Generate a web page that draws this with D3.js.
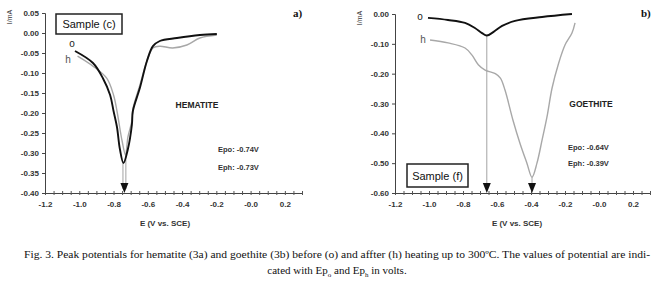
<!DOCTYPE html>
<html>
<head>
<meta charset="utf-8">
<script src="https://cdn.jsdelivr.net/npm/d3@7"></script>
<style>
  body { margin: 0; background: #fff; }
  svg text { font-family: "Liberation Sans", Arial, sans-serif; }
  .cap { font-family: "Liberation Serif", "Times New Roman", serif !important; }
</style>
</head>
<body>
<svg id="chart" width="661" height="285"></svg>
<script>
// --- data ---
const xTickValues = [-1.2, -1.0, -0.8, -0.6, -0.4, -0.2, 0.0, 0.2];
const xTickLabels = ["-1.2", "-1.0", "-0.8", "-0.6", "-0.4", "-0.2", "-0.0", "0.2"];
const hemYTicks = [0.05, 0.00, -0.05, -0.10, -0.15, -0.20, -0.25, -0.30, -0.35, -0.40];
const hemYLabels = ["0.05", "0.00", "-0.05", "-0.10", "-0.15", "-0.20", "-0.25", "-0.30", "-0.35", "-0.40"];
const goeYTicks = [0.00, -0.10, -0.20, -0.30, -0.40, -0.50, -0.60];
const goeYLabels = ["0.00", "-0.10", "-0.20", "-0.30", "-0.40", "-0.50", "-0.60"];

// hematite, before heating (o)
const hemOE = [-1.025, -0.92, -0.862, -0.82, -0.80, -0.78, -0.763, -0.742, -0.716, -0.693, -0.687, -0.646, -0.605, -0.57, -0.53, -0.43, -0.296, -0.197];
const hemOI = [-0.045, -0.075, -0.113, -0.155, -0.195, -0.235, -0.29, -0.325, -0.29, -0.23, -0.195, -0.137, -0.07, -0.033, -0.02, -0.0125, -0.005, -0.0025];
// hematite, after heating (h)
const hemHE = [-1.01, -0.92, -0.84, -0.80, -0.78, -0.75, -0.73, -0.716, -0.693, -0.687, -0.646, -0.605, -0.57, -0.53, -0.455, -0.372, -0.296, -0.197];
const hemHI = [-0.058, -0.083, -0.113, -0.155, -0.195, -0.27, -0.305, -0.26, -0.22, -0.19, -0.13, -0.07, -0.0375, -0.033, -0.0375, -0.03, -0.0125, -0.005];
const hemPeakE = [-0.745, -0.728];
const hemPeakI = [-0.325, -0.305];

// goethite, before heating (o)
const goeOE = [-1.006, -0.888, -0.788, -0.73, -0.688, -0.66, -0.62, -0.57, -0.494, -0.335, -0.159];
const goeOI = [-0.013, -0.02, -0.03, -0.047, -0.064, -0.072, -0.06, -0.04, -0.023, -0.01, 0.0];
// goethite, after heating (h)
const goeHE = [-0.994, -0.888, -0.788, -0.747, -0.71, -0.67, -0.61, -0.58, -0.553, -0.506, -0.465, -0.424, -0.394, -0.365, -0.335, -0.306, -0.276, -0.24, -0.2, -0.159, -0.141];
const goeHI = [-0.087, -0.097, -0.114, -0.138, -0.17, -0.188, -0.2, -0.215, -0.255, -0.356, -0.433, -0.5, -0.547, -0.5, -0.423, -0.345, -0.248, -0.17, -0.104, -0.064, -0.03];
const goePeakE = [-0.66, -0.394];
const goePeakI = [-0.072, -0.547];

const svg = d3.select("#chart");
svg.append("rect").attr("width", 661).attr("height", 285).attr("fill", "#fff");

function panel(opt) {
  const x = d3.scaleLinear().domain([-1.2, 0.3]).range(opt.xr);
  const y = d3.scaleLinear().domain(opt.yd).range(opt.yr);
  const g = svg.append("g");
  const bottom = opt.yr[0];

  // minor ticks crossing the x axis
  const minor = d3.range(-1.2, 0.3001, 0.05);
  const ax = g.append("g")
    .attr("transform", `translate(0,${bottom})`)
    .call(d3.axisBottom(x).tickValues(minor).tickSize(2).tickFormat(""));
  ax.selectAll(".tick line").attr("y1", -2).attr("y2", 2).attr("stroke", "#555");
  ax.select(".domain").attr("stroke", "#444");

  // x labels
  const axl = g.append("g")
    .attr("transform", `translate(0,${bottom})`)
    .call(d3.axisBottom(x).tickValues(xTickValues).tickSize(0).tickPadding(8)
      .tickFormat((d, i) => xTickLabels[i]));
  axl.select(".domain").remove();
  axl.selectAll("text").attr("font-size", 8).attr("font-weight", "bold")
    .attr("fill", "#333").attr("font-family", "Liberation Sans, Arial, sans-serif");

  // y axis
  const ay = g.append("g")
    .attr("transform", `translate(${opt.xr[0]},0)`)
    .call(d3.axisLeft(y).tickValues(opt.yt).tickSize(3).tickPadding(3)
      .tickFormat((d, i) => opt.yl[i]));
  ay.select(".domain").attr("stroke", "#444");
  ay.selectAll(".tick line").attr("stroke", "#444");
  ay.selectAll("text").attr("font-size", 8).attr("font-weight", "bold")
    .attr("fill", "#333").attr("font-family", "Liberation Sans, Arial, sans-serif");

  // axis titles
  g.append("text").attr("transform", `translate(${opt.xr[0] - 33},${opt.yr[1] + 4}) rotate(-90)`)
    .attr("text-anchor", "middle").attr("font-size", 7).attr("fill", "#333").text("I/mA");
  g.append("text").attr("x", opt.xlab).attr("y", 226).attr("text-anchor", "middle")
    .attr("font-size", 8).attr("font-weight", "bold").attr("fill", "#333").text("E (V vs. SCE)");

  // curves
  const line = d3.line().x(d => x(d[0])).y(d => y(d[1])).curve(d3.curveCatmullRom.alpha(0.5));
  const hPts = opt.hE.map((e, i) => [e, opt.hI[i]]);
  const oPts = opt.oE.map((e, i) => [e, opt.oI[i]]);

  // peak arrows
  opt.pE.forEach((e, i) => {
    g.append("line").attr("x1", x(e)).attr("x2", x(e))
      .attr("y1", y(opt.pI[i])).attr("y2", bottom - 4)
      .attr("stroke", "#999").attr("stroke-width", 0.9);
  });
  const heads = opt.singleHead ? [d3.mean(opt.pE)] : opt.pE;
  heads.forEach(e => {
    const cx = x(e);
    g.append("path")
      .attr("d", `M${cx - 4},${bottom - 10}L${cx + 4},${bottom - 10}L${cx},${bottom}Z`)
      .attr("fill", "#111");
  });

  g.append("path").datum(hPts).attr("d", line).attr("fill", "none")
    .attr("stroke", "#a8a8a8").attr("stroke-width", 1.4);
  g.append("path").datum(oPts).attr("d", line).attr("fill", "none")
    .attr("stroke", "#111").attr("stroke-width", 1.9);

  // o / h labels
  g.append("text").attr("x", opt.oLab[0]).attr("y", opt.oLab[1]).attr("text-anchor", "middle")
    .attr("font-size", 10).attr("fill", "#222").text("o");
  g.append("text").attr("x", opt.hLab[0]).attr("y", opt.hLab[1]).attr("text-anchor", "middle")
    .attr("font-size", 10).attr("fill", "#555").text("h");

  // sample box
  const b = opt.box;
  g.append("rect").attr("x", b[0]).attr("y", b[1]).attr("width", b[2]).attr("height", b[3])
    .attr("fill", "#fff").attr("stroke", "#222").attr("stroke-width", 1.5);
  g.append("text").attr("x", b[0] + b[2] / 2).attr("y", b[1] + b[3] / 2 + 4)
    .attr("text-anchor", "middle").attr("font-size", 11).attr("fill", "#111").text(opt.sample);

  // mineral name and peak values
  g.append("text").attr("x", opt.name[0]).attr("y", opt.name[1]).attr("text-anchor", "middle")
    .attr("font-size", 8.5).attr("font-weight", "bold").attr("fill", "#222").text(opt.name[2]);
  g.append("text").attr("x", opt.ep[0]).attr("y", opt.ep[1])
    .attr("font-size", 7.5).attr("font-weight", "bold").attr("fill", "#333").text(opt.ep[3]);
  g.append("text").attr("x", opt.ep[0]).attr("y", opt.ep[2])
    .attr("font-size", 7.5).attr("font-weight", "bold").attr("fill", "#333").text(opt.ep[4]);

  // panel letter
  g.append("text").attr("x", opt.letter[0]).attr("y", opt.letter[1])
    .attr("class", "cap").attr("font-size", 11).attr("font-weight", "bold")
    .attr("fill", "#111").text(opt.letter[2]);
}

panel({
  xr: [45, 302], yd: [-0.40, 0.05], yr: [193, 13], yt: hemYTicks, yl: hemYLabels, xlab: 165,
  oE: hemOE, oI: hemOI, hE: hemHE, hI: hemHI, pE: hemPeakE, pI: hemPeakI, singleHead: true,
  oLab: [72, 47], hLab: [68, 63], box: [56, 14, 66, 20], sample: "Sample (c)",
  name: [197, 108, "HEMATITE"], ep: [218, 152, 170, "Epo: -0.74V", "Eph: -0.73V"],
  letter: [293, 17, "a)"]
});

panel({
  xr: [395, 650], yd: [-0.60, 0.00], yr: [193, 14], yt: goeYTicks, yl: goeYLabels, xlab: 517,
  oE: goeOE, oI: goeOI, hE: goeHE, hI: goeHI, pE: goePeakE, pI: goePeakI, singleHead: false,
  oLab: [420, 20], hLab: [423, 43], box: [407, 164, 61, 23], sample: "Sample (f)",
  name: [591, 107, "GOETHITE"], ep: [568, 150, 166, "Epo: -0.64V", "Eph: -0.39V"],
  letter: [641, 17, "b)"]
});

// caption
const cap = svg.append("g").attr("class", "cap").attr("fill", "#111");
cap.append("text").attr("class", "cap").attr("x", 24).attr("y", 258).attr("font-size", 11)
  .attr("textLength", 626).attr("lengthAdjust", "spacingAndGlyphs")
  .text("Fig. 3. Peak potentials for hematite (3a) and goethite (3b) before (o) and affter (h) heating up to 300ºC. The values of potential are indi-");
const l2 = cap.append("text").attr("class", "cap").attr("x", 337).attr("y", 274)
  .attr("font-size", 11).attr("text-anchor", "middle");
l2.append("tspan").text("cated with Ep");
l2.append("tspan").attr("font-size", 7).attr("dy", 3).text("o");
l2.append("tspan").attr("dy", -3).text(" and Ep");
l2.append("tspan").attr("font-size", 7).attr("dy", 3).text("h");
l2.append("tspan").attr("dy", -3).text(" in volts.");
</script>
</body>
</html>
